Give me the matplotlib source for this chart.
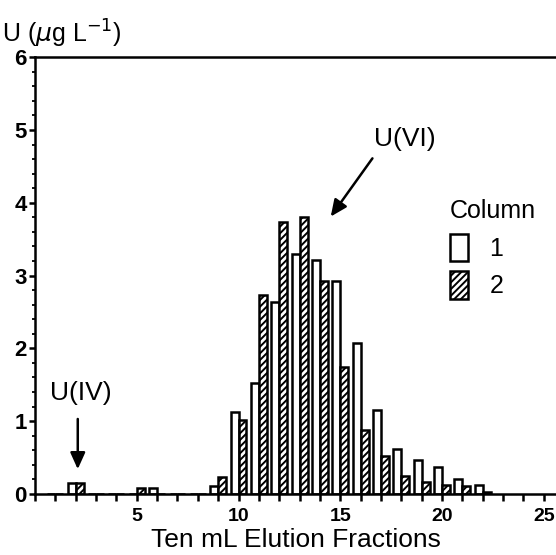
import numpy as np
import matplotlib.pyplot as plt
from matplotlib.ticker import MultipleLocator

plt.rcParams['font.family'] = ['Liberation Sans', 'DejaVu Sans']
plt.rcParams['hatch.linewidth'] = 1.4

# fraction number and U concentration (ug/L) for each column
fractions = np.arange(1, 23)
column1 = [0, 0.15, 0, 0, 0, 0.08, 0, 0, 0.11, 1.12, 1.53, 2.63, 3.30, 3.22,
           2.93, 2.07, 1.15, 0.62, 0.47, 0.37, 0.21, 0.12]
column2 = [0, 0.15, 0, 0, 0.08, 0, 0, 0, 0.23, 1.02, 2.73, 3.74, 3.80, 2.92,
           1.74, 0.88, 0.52, 0.25, 0.16, 0.12, 0.11, 0.02]

fig = plt.figure(figsize=(5.56, 5.55), dpi=100)
ax = fig.add_axes([0.063, 0.110, 0.937, 0.787])

w = 0.39
ax.bar(fractions, column1, width=-w, align='edge', facecolor='white',
       edgecolor='black', linewidth=1.8, label='1')
ax.bar(fractions, column2, width=w, align='edge', facecolor='white',
       edgecolor='black', linewidth=1.8, hatch='/////', label='2')

ax.set_xlim(0, 25.6)
ax.set_ylim(0, 6)
ax.spines['right'].set_visible(False)
for s in ['left', 'bottom', 'top']:
    ax.spines[s].set_linewidth(1.8)

ax.xaxis.set_major_locator(MultipleLocator(5))
ax.xaxis.set_minor_locator(MultipleLocator(1))
ax.yaxis.set_major_locator(MultipleLocator(1))
ax.yaxis.set_minor_locator(MultipleLocator(0.2))
ax.tick_params(axis='x', which='both', direction='out', length=5, width=1.8,
               labelsize=14, pad=5)
ax.tick_params(axis='y', which='major', direction='out', length=4, width=1.8,
               labelsize=16, pad=2)
ax.tick_params(axis='y', which='minor', direction='out', length=2.5, width=1.3)
ax.xaxis.set_major_formatter(lambda v, p: '' if v == 0 else f'{v:.0f}')
for t in ax.get_xticklabels() + ax.get_yticklabels():
    t.set_fontweight('bold')

ax.set_xlabel('Ten mL Elution Fractions', fontsize=19, labelpad=2)
fig.text(0.004, 0.968, r'U ($\mu$g L$^{-1}$)', fontsize=18, va='top')

arrow = dict(arrowstyle='-|>,head_length=0.4,head_width=0.18', color='black',
             lw=1.8, mutation_scale=25, shrinkA=0, shrinkB=0)
ax.annotate('', xy=(2.1, 0.34), xytext=(2.1, 1.03), arrowprops=arrow)
ax.text(2.25, 1.39, 'U(IV)', ha='center', va='center', fontsize=19)
ax.annotate('', xy=(14.53, 3.81), xytext=(16.58, 4.61), arrowprops=arrow)
ax.text(18.15, 4.88, 'U(VI)', ha='center', va='center', fontsize=19)

ax.text(0.797, 0.632, 'Column', transform=ax.transAxes, fontsize=18,
        ha='left', va='baseline')
leg = ax.legend(loc='upper left', bbox_to_anchor=(0.797, 0.595),
                frameon=False, fontsize=18, borderpad=0, borderaxespad=0,
                handlelength=0.72, handleheight=1.3, handletextpad=0.85,
                labelspacing=0.4)

fig.savefig('out.png', dpi=100)
